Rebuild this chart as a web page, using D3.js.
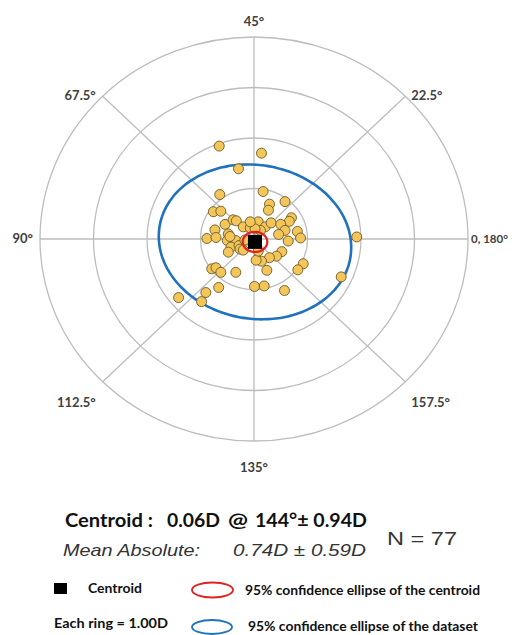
<!DOCTYPE html>
<html>
<head>
<meta charset="utf-8">
<script src="https://cdn.jsdelivr.net/npm/d3@7"></script>
<style>
  html, body { margin: 0; padding: 0; background: #ffffff; }
  svg { display: block; }
</style>
</head>
<body>
<svg id="chart" width="512" height="635"></svg>
<script>
// Double-angle astigmatism plot: each vector is drawn at (C·cos2θ, C·sin2θ), in dioptres.
const ringValues = [1, 2, 3, 4];
const axisAngles = [0, 22.5, 45, 67.5, 90, 112.5, 135, 157.5];
const axisLabels = ["0, 180°", "22.5°", "45°", "67.5°", "90°", "112.5°", "135°", "157.5°"];

// Individual eyes, double-angle components (D)
const vecX = [-0.65, 0.14, -0.29, -0.64, 0.17, 0.58, 0.29, 0.27, -0.76, -0.62,
  0.70, 0.66, 1.92, 1.63, 0.92, 0.82, -1.41, -0.98, -0.90, -0.66,
  0.01, 0.19, 0.57, 0.24, -0.34, -0.79, -0.71, -0.62, -0.54, -0.39,
  -0.33, -0.73, -0.88, -0.71, -0.48, -0.50, -0.34, -0.43, -0.48, -0.28,
  -0.20, -0.07, 0.08, 0.21, 0.32, 0.50, 0.58, 0.46, 0.81, 0.87,
  0.64, 0.12, 0.02, 0.52, 0.42, 0.29, 0.14, 0.04, 0.08, -0.45,
  -0.26, -0.17, -0.20, -0.07];
const vecY = [1.84, 1.70, 1.39, 0.88, 0.94, 0.74, 0.69, 0.57, 0.54, 0.55,
  0.42, 0.35, 0.04, -0.75, -0.49, -0.61, -1.16, -1.24, -1.06, -0.96,
  -0.94, -0.93, -1.02, -0.62, -0.66, -0.59, -0.57, -0.66, 0.29, 0.38,
  0.36, 0.18, 0.01, 0.03, 0.10, -0.03, -0.03, -0.16, -0.26, -0.13,
  0.24, 0.22, 0.34, 0.24, 0.32, 0.29, 0.17, 0.09, 0.15, 0.02,
  -0.04, 0.17, 0.20, -0.25, -0.34, -0.37, -0.44, -0.42, -0.24, 0.05,
  -0.20, -0.02, -0.22, 0.34];

// Summary statistics
const centroidMag = 0.06;
const centroidAxis = 144;
const centroidSD = 0.94;
const meanAbs = 0.74;
const meanAbsSD = 0.59;
const sampleN = 77;
// 95% ellipses: [semi-major D, semi-minor D, tilt in degrees]
const centroidEllipse = [0.23, 0.20, 0];
const datasetEllipse = [1.81, 1.52, -12];

const W = 512;
const svg = d3.select("#chart");
const x = d3.scaleLinear().domain([-4, 4]).range([40, 468]);
const y = d3.scaleLinear().domain([-4, 4]).range([441, 37]);
const rad = d => d * Math.PI / 180;

const grid = svg.append("g").attr("fill", "none").attr("stroke", "#bdbdbd").attr("stroke-width", 1.3);
grid.selectAll("ellipse").data(ringValues).join("ellipse")
  .attr("cx", x(0)).attr("cy", y(0))
  .attr("rx", d => x(d) - x(0)).attr("ry", d => y(0) - y(d));
grid.selectAll("line").data(axisAngles).join("line")
  .attr("x1", x(0)).attr("y1", y(0))
  .attr("x2", d => x(4 * Math.cos(rad(2 * d))))
  .attr("y2", d => y(4 * Math.sin(rad(2 * d))));

// Axis labels sit just outside the end of each spoke
const rMax = d3.max(ringValues);
const labelSize = 13;
svg.append("g").selectAll("text").data(axisAngles).join("text")
  .attr("font-family", "Lato, 'Open Sans', sans-serif")
  .attr("font-size", labelSize).attr("font-weight", 700).attr("fill", "#404040")
  .each(function (d, i) {
    const a = rad(2 * d), c = Math.cos(a), s = Math.sin(a);
    const px = x(rMax * c), py = y(rMax * s);
    let anchor = "middle", tx = px, ty;
    if (c > 0.3) { anchor = "start"; tx = px + 6; }
    else if (c < -0.3) { anchor = "end"; tx = px - 7; }
    if (s > 0.9) ty = py - 11;
    else if (s < -0.9) ty = py + 31;
    else if (s > 0.3) ty = py + 4;
    else if (s < -0.3) ty = py + 25;
    else ty = py + 4;
    const t = d3.select(this).attr("x", tx).attr("y", ty).attr("text-anchor", anchor).text(axisLabels[i]);
    // keep labels inside the frame: shrink a little, then pull left if needed
    const limit = W - 4;
    let w = this.getComputedTextLength();
    if (anchor === "start" && tx + w > limit) {
      const size = Math.max(11.5, labelSize * (limit - tx) / w);
      t.attr("font-size", size);
      w = this.getComputedTextLength();
      if (tx + w > limit) t.attr("x", limit - w);
    }
  });

const centroid = [centroidMag * Math.cos(rad(2 * centroidAxis)), centroidMag * Math.sin(rad(2 * centroidAxis))];

function ellipsePath(e, c) {
  const [a, b, t] = e, th = rad(t);
  const pts = d3.range(0, 360, 3).map(u => {
    const ur = rad(u);
    const ex = a * Math.cos(ur), ey = b * Math.sin(ur);
    return [c[0] + ex * Math.cos(th) - ey * Math.sin(th), c[1] + ex * Math.sin(th) + ey * Math.cos(th)];
  });
  return d3.line().x(p => x(p[0])).y(p => y(p[1])).curve(d3.curveCardinalClosed)(pts);
}

svg.append("path").attr("d", ellipsePath(datasetEllipse, centroid))
  .attr("fill", "none").attr("stroke", "#1f72bb").attr("stroke-width", 2.6);

svg.append("g").selectAll("circle").data(vecX).join("circle")
  .attr("cx", d => x(d)).attr("cy", (d, i) => y(vecY[i])).attr("r", 5)
  .attr("fill", "#f4c65a").attr("stroke", "#6b5a28").attr("stroke-width", 0.9);

svg.append("rect")
  .attr("x", x(centroid[0]) - 7).attr("y", y(centroid[1]) - 7)
  .attr("width", 14).attr("height", 14).attr("fill", "#000");
svg.append("path").attr("d", ellipsePath(centroidEllipse, centroid))
  .attr("fill", "none").attr("stroke", "#e3201f").attr("stroke-width", 2.2);

// Summary block
const sum = svg.append("g").attr("fill", "#111");
const boldFont = "Lato, 'Open Sans', sans-serif";
const addText = (t, px, py, opts) => {
  const el = sum.append("text").attr("x", px).attr("y", py).text(t)
    .attr("font-family", opts.family).attr("font-size", opts.size)
    .attr("font-weight", opts.weight || 400).attr("font-style", opts.style || "normal")
    .attr("fill", opts.fill || "#111");
  if (opts.len) el.attr("textLength", opts.len).attr("lengthAdjust", "spacingAndGlyphs");
  return el;
};
addText("Centroid :", 65, 527, { family: boldFont, size: 18, weight: 700, len: 88 });
addText(`${centroidMag.toFixed(2)}D`, 167, 527, { family: boldFont, size: 18, weight: 700, len: 53 });
addText("@", 228, 527, { family: boldFont, size: 18, weight: 700, len: 20 });
addText(`${centroidAxis}°± ${centroidSD.toFixed(2)}D`, 255, 527, { family: boldFont, size: 18, weight: 700, len: 112 });
addText("Mean Absolute:", 63, 556, { family: "'Liberation Sans', Arial, sans-serif", size: 17, style: "italic", fill: "#333", len: 137 });
addText(`${meanAbs.toFixed(2)}D  ± ${meanAbsSD.toFixed(2)}D`, 233, 556, { family: "'Liberation Sans', Arial, sans-serif", size: 17, style: "italic", fill: "#333", len: 133 });
addText(`N =  ${sampleN}`, 387, 545, { family: "'Liberation Sans', Arial, sans-serif", size: 18, fill: "#333", len: 70 });

// Legend
const legFont = "Lato, 'Open Sans', sans-serif";
sum.append("rect").attr("x", 54).attr("y", 583).attr("width", 13).attr("height", 11).attr("fill", "#000");
addText("Centroid", 88, 593, { family: legFont, size: 13, weight: 700, len: 54 });
sum.append("ellipse").attr("cx", 212.5).attr("cy", 590).attr("rx", 20.5).attr("ry", 7.5)
  .attr("fill", "none").attr("stroke", "#e3201f").attr("stroke-width", 1.8);
addText("95% confidence ellipse of  the centroid", 245, 595, { family: legFont, size: 13, weight: 700, len: 235 });
addText("Each ring = 1.00D", 54, 628, { family: legFont, size: 13, weight: 700, len: 114 });
sum.append("ellipse").attr("cx", 212).attr("cy", 627).attr("rx", 20).attr("ry", 7)
  .attr("fill", "none").attr("stroke", "#1f72bb").attr("stroke-width", 1.8);
addText("95% confidence ellipse of the dataset", 248, 631, { family: legFont, size: 13, weight: 700, len: 230 });
</script>
</body>
</html>
